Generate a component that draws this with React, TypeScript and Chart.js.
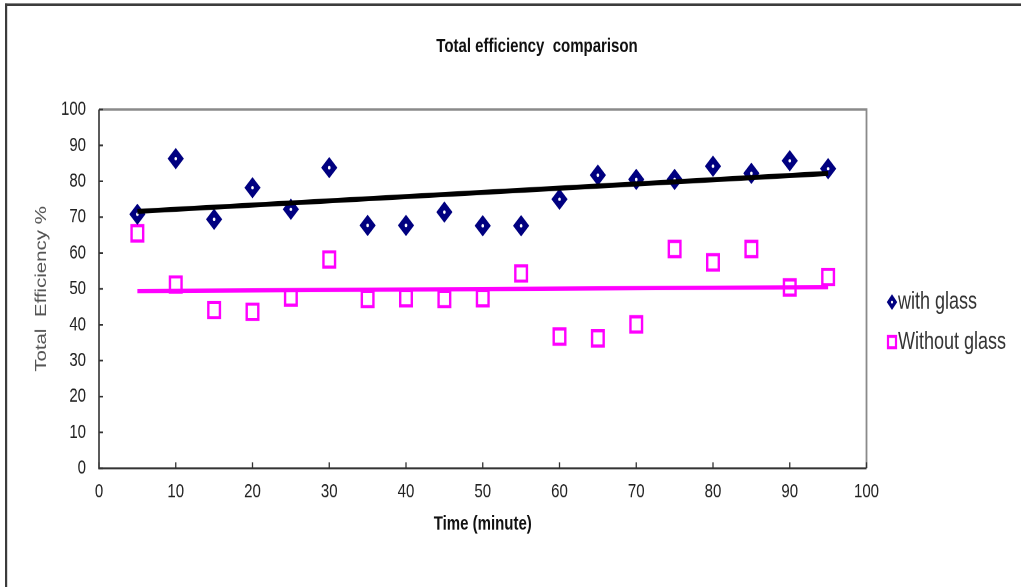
import React, { useEffect, useRef } from 'react';
import { Chart, registerables } from 'chart.js';

Chart.register(...registerables);

// ---- data ----
const timeMinutes = [5, 10, 15, 20, 25, 30, 35, 40, 45, 50, 55, 60, 65, 70, 75, 80, 85, 90, 95];
const withGlass = [70.8, 86.3, 69.4, 78.2, 72.2, 83.8, 67.7, 67.7, 71.4, 67.6, 67.6, 75.0, 81.7, 80.5, 80.5, 84.2, 82.2, 85.7, 83.5];
const withoutGlass = [65.5, 51.2, 44.1, 43.6, 47.6, 58.2, 47.2, 47.4, 47.2, 47.4, 54.3, 36.7, 36.2, 40.1, 61.1, 57.4, 61.1, 50.4, 53.3];
const trendX = [5, 95];
const trendWithGlass = [71.6, 82.2];
const trendWithoutGlass = [49.4, 50.5];

const seriesLabels = ['with glass', 'Without glass'];
const chartTitle = 'Total efficiency  comparison';
const xTitle = 'Time (minute)';
const yTitle = 'Total  Efficiency %';

// ---- layout (internal canvas is vertically stretched via CSS) ----
const W = 1021;
const H_CSS = 587;
const H = 445;

const NAVY = '#000080';
const MAGENTA = '#ff00ff';
const FONT = '"Liberation Sans", Arial, sans-serif';

const pts = (xs: number[], ys: number[]) => xs.map((x, i) => ({ x, y: ys[i] }));

const decorPlugin = {
  id: 'decor',
  beforeDraw(chart: any) {
    const ctx = chart.ctx;
    ctx.save();
    ctx.fillStyle = '#ffffff';
    ctx.fillRect(0, 0, chart.width, chart.height);
    // outer frame (top + left)
    ctx.fillStyle = '#3c3c3c';
    ctx.fillRect(5, 2.6, chart.width - 5, 1.9);
    ctx.fillRect(5, 2.6, 2.2, chart.height);
    ctx.restore();
  },
  beforeDatasetsDraw(chart: any) {
    const ctx = chart.ctx;
    const a = chart.chartArea;
    const xs = chart.scales.x;
    const ys = chart.scales.y;
    ctx.save();
    // top & right border (grey)
    ctx.strokeStyle = '#8a8a8a';
    ctx.lineWidth = 1.8;
    ctx.beginPath();
    ctx.moveTo(a.left, a.top);
    ctx.lineTo(a.right, a.top);
    ctx.lineTo(a.right, a.bottom);
    ctx.stroke();
    // left & bottom axis lines (dark)
    ctx.strokeStyle = '#333333';
    ctx.lineWidth = 1.6;
    ctx.beginPath();
    ctx.moveTo(a.left, a.top);
    ctx.lineTo(a.left, a.bottom);
    ctx.lineTo(a.right, a.bottom);
    ctx.stroke();
    // inward tick marks
    ctx.lineWidth = 1.3;
    ctx.beginPath();
    ys.ticks.forEach((t: any) => {
      const py = ys.getPixelForValue(t.value);
      ctx.moveTo(a.left, py);
      ctx.lineTo(a.left + 4, py);
    });
    xs.ticks.forEach((t: any) => {
      const px = xs.getPixelForValue(t.value);
      ctx.moveTo(px, a.bottom);
      ctx.lineTo(px, a.bottom - 4.5);
    });
    ctx.stroke();
    ctx.restore();
  },
  afterDatasetDraw(chart: any, args: any) {
    const ds = chart.data.datasets[args.index];
    if (!ds || !ds.whiteDot) return;
    const ctx = chart.ctx;
    ctx.save();
    ctx.fillStyle = '#ffffff';
    args.meta.data.forEach((el: any) => {
      ctx.beginPath();
      ctx.arc(el.x, el.y, 1.3, 0, Math.PI * 2);
      ctx.fill();
    });
    ctx.restore();
  },
  afterDraw(chart: any) {
    const ctx = chart.ctx;
    ctx.save();
    // chart title
    ctx.fillStyle = '#111111';
    ctx.font = `bold 15px ${FONT}`;
    ctx.textAlign = 'center';
    ctx.textBaseline = 'middle';
    ctx.fillText(chartTitle, 537, 35.6);

    // legend
    const lx = 892;
    const ly1 = 229;
    const ly2 = 259.3;
    ctx.fillStyle = NAVY;
    ctx.beginPath();
    ctx.moveTo(lx, ly1 - 6);
    ctx.lineTo(lx + 5.2, ly1);
    ctx.lineTo(lx, ly1 + 6);
    ctx.lineTo(lx - 5.2, ly1);
    ctx.closePath();
    ctx.fill();
    ctx.fillStyle = '#ffffff';
    ctx.beginPath();
    ctx.arc(lx, ly1, 1.1, 0, Math.PI * 2);
    ctx.fill();

    ctx.strokeStyle = MAGENTA;
    ctx.lineWidth = 2.2;
    ctx.strokeRect(lx - 4, ly2 - 4.3, 8, 8.6);

    ctx.fillStyle = '#333333';
    ctx.font = `18px ${FONT}`;
    ctx.textAlign = 'left';
    ctx.textBaseline = 'middle';
    ctx.fillText(seriesLabels[0], lx + 6, ly1);
    ctx.fillText(seriesLabels[1], lx + 6, ly2);
    ctx.restore();
  },
};

export default function App() {
  const canvasRef = useRef<HTMLCanvasElement | null>(null);

  useEffect(() => {
    const canvas = canvasRef.current;
    if (!canvas) return;
    const chart = new Chart(canvas, {
      type: 'scatter',
      data: {
        datasets: [
          {
            label: 'trend ' + seriesLabels[0],
            data: pts(trendX, trendWithGlass),
            showLine: true,
            borderColor: '#000000',
            borderWidth: 3.8,
            pointRadius: 0,
            order: 0,
          } as any,
          {
            label: 'trend ' + seriesLabels[1],
            data: pts(trendX, trendWithoutGlass),
            showLine: true,
            borderColor: MAGENTA,
            borderWidth: 3.2,
            pointRadius: 0,
            order: 0,
          } as any,
          {
            label: seriesLabels[0],
            data: pts(timeMinutes, withGlass),
            pointStyle: 'rectRot',
            pointRadius: 7.4,
            backgroundColor: NAVY,
            borderColor: NAVY,
            borderWidth: 1,
            whiteDot: true,
            order: 1,
          } as any,
          {
            label: seriesLabels[1],
            data: pts(timeMinutes, withoutGlass),
            pointStyle: 'rect',
            pointRadius: 8.2,
            backgroundColor: 'rgba(0,0,0,0)',
            borderColor: MAGENTA,
            borderWidth: 2.4,
            order: 1,
          } as any,
        ],
      },
      options: {
        responsive: false,
        animation: false,
        devicePixelRatio: 2,
        events: [],
        layout: { padding: { top: 83, right: 154.5, bottom: 0, left: 0 } },
        plugins: {
          legend: { display: false },
          title: { display: false },
          tooltip: { enabled: false },
        },
        scales: {
          x: {
            type: 'linear',
            min: 0,
            max: 100,
            grid: { display: false, drawTicks: false },
            border: { display: false },
            ticks: {
              stepSize: 10,
              padding: 9,
              color: '#222222',
              font: { family: FONT, size: 15 },
              maxRotation: 0,
            },
            title: {
              display: true,
              text: xTitle,
              color: '#111111',
              font: { family: FONT, size: 15, weight: 'bold' },
              padding: { top: 0, bottom: 38.7 },
            },
            afterFit: (s: any) => {
              s.height = 90;
            },
          },
          y: {
            type: 'linear',
            min: 0,
            max: 100,
            grid: { display: false, drawTicks: false },
            border: { display: false },
            ticks: {
              stepSize: 10,
              padding: 13,
              color: '#222222',
              font: { family: FONT, size: 15 },
            },
            title: {
              display: true,
              text: yTitle,
              color: '#555555',
              font: { family: FONT, size: 15.5 },
              padding: { top: 32.2, bottom: 0 },
            },
            afterFit: (s: any) => {
              s.width = 99;
            },
          },
        },
      } as any,
      plugins: [decorPlugin],
    });
    return () => chart.destroy();
  }, []);

  return (
    <div style={{ position: 'absolute', left: 0, top: 0, width: W, height: H_CSS, overflow: 'hidden', background: '#fff' }}>
      <canvas
        ref={canvasRef}
        width={W}
        height={H}
        style={{ width: `${W}px`, height: `${H_CSS}px`, display: 'block' }}
      />
    </div>
  );
}
